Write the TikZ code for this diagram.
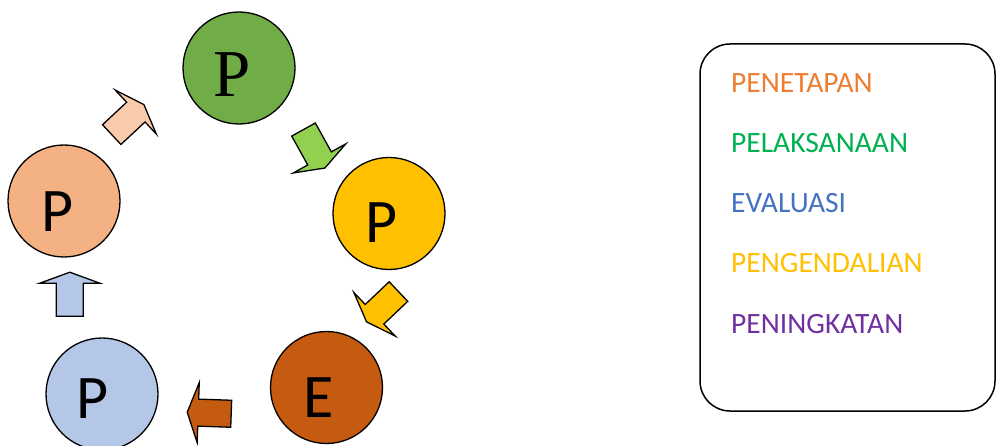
\documentclass[tikz,border=0pt]{standalone}
\usepackage{fontspec}
\setmainfont{Carlito}
\newfontfamily\serifP{Liberation Serif}
\definecolor{cGreen}{HTML}{70AD47}
\definecolor{cYellow}{HTML}{FFC000}
\definecolor{cBrown}{HTML}{C55A11}
\definecolor{cBlue}{HTML}{B4C7E7}
\definecolor{cSalmon}{HTML}{F4B183}
\definecolor{aSalmon}{HTML}{F8CBAD}
\definecolor{aGreen}{HTML}{92D050}
\definecolor{tOrange}{HTML}{ED7D31}
\definecolor{tGreen}{HTML}{00B050}
\definecolor{tBlue}{HTML}{4472C4}
\definecolor{tYellow}{HTML}{FFC000}
\definecolor{tPurple}{HTML}{7030A0}
\tikzset{
  circ/.style={circle, draw=black, line width=1.3pt, minimum size=112pt, inner sep=0pt},
  letter/.style={inner sep=0pt, font=\fontsize{62}{62}\selectfont},
  lbl/.style={anchor=base west, inner sep=0pt, font=\fontsize{29.5}{29.5}\selectfont},
  blockarrow/.pic={
    \draw[pic actions] (-22,-13.5) -- (11,-13.5) -- (11,-30) -- (22,0) -- (11,30) -- (11,13.5) -- (-22,13.5) -- cycle;
  },
  arr/.style={draw=black, line width=1.3pt, line join=miter}
}
\begin{document}
\begin{tikzpicture}[x=1pt,y=1pt]
\useasboundingbox (0,0) rectangle (996,445);
% circles
\node[circ, fill=cGreen]  (c1) at (239,377) {};
\node[circ, fill=cYellow] (c2) at (389,231.5) {};
\node[circ, fill=cBrown]  (c3) at (326.5,57.5) {};
\node[circ, fill=cBlue]   (c4) at (102,51) {};
\node[circ, fill=cSalmon] (c5) at (64,244) {};
% letters
\node[letter, font=\serifP\fontsize{67}{67}\selectfont] (l1) at (232.5,370.5) {P};
\node[letter] (l2) at (381.5,222) {P};
\node[letter] (l3) at (318.5,47) {E};
\node[letter] (l4) at (92.5,46.5) {P};
\node[letter] (l5) at (57.5,233.5) {P};
% block arrows
\pic[arr, fill=aSalmon, rotate=43]  at (127.8,325.4) {blockarrow};
\pic[arr, fill=aGreen, rotate=-61]  at (314.2,296.2) {blockarrow};
\pic[arr, fill=cYellow, rotate=223.5] at (382.5,138.3) {blockarrow};
\pic[arr, fill=cBrown, rotate=178]  at (209.2,32) {blockarrow};
\pic[arr, fill=cBlue, rotate=90]    at (69.8,150.8) {blockarrow};
% legend box
\draw[line width=1.5pt, rounded corners=30pt] (700,34) rectangle (995,401);
\node[lbl, text=tOrange] (t1) at (731,352) {PENETAPAN};
\node[lbl, text=tGreen]  (t2) at (731,292) {PELAKSANAAN};
\node[lbl, text=tBlue]   (t3) at (731,232) {EVALUASI};
\node[lbl, text=tYellow] (t4) at (731,172) {PENGENDALIAN};
\node[lbl, text=tPurple] (t5) at (731,112) {PENINGKATAN};
\end{tikzpicture}
\end{document}
